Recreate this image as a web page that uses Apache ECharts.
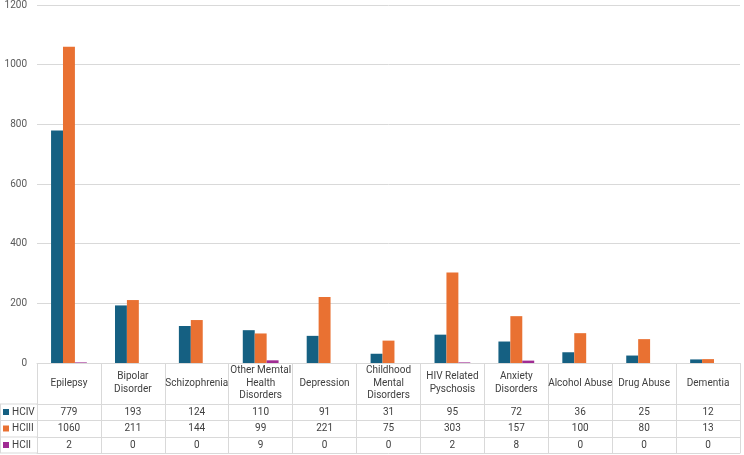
<!DOCTYPE html>
<html>
<head>
<meta charset="utf-8">
<script src="https://cdn.jsdelivr.net/npm/echarts@6/dist/echarts.min.js"></script>
<style>
html,body{margin:0;padding:0;background:#fff;}
#chart{width:744px;height:455px;}
</style>
</head>
<body>
<div id="chart"></div>
<script>
const categories = ['Epilepsy','Bipolar Disorder','Schizophrenia','Other Memtal Health Disorders','Depression','Childhood Mental Disorders','HIV Related Pyschosis','Anxiety Disorders','Alcohol Abuse','Drug Abuse','Dementia'];
const categoryLabels = ['Epilepsy','Bipolar\nDisorder','Schizophrenia','Other Memtal\nHealth\nDisorders','Depression','Childhood\nMental\nDisorders','HIV Related\nPyschosis','Anxiety\nDisorders','Alcohol Abuse','Drug Abuse','Dementia'];
const seriesNames = ['HCIV','HCIII','HCII'];
const HCIV = [779,193,124,110,91,31,95,72,36,25,12];
const HCIII = [1060,211,144,99,221,75,303,157,100,80,13];
const HCII = [2,0,0,9,0,0,2,8,0,0,0];
const yTicks = {min:0, max:1200, interval:200};

const colors = ['#156082','#E97132','#A02B93'];
const lineCol = '#d9d9d9';
const textCol = '#404040';
const font = 'Roboto, "Liberation Sans", sans-serif';

const chart = echarts.init(document.getElementById('chart'), null, {renderer:'canvas'});

function rowAxis(values, offset){
  return {
    type:'category', data:categories, gridIndex:0, position:'bottom', offset:offset,
    axisLine:{show:true, lineStyle:{color:lineCol, width:1}},
    axisTick:{show:false},
    axisLabel:{show: values !== null, interval:0, margin:8, verticalAlign:'middle', fontSize:10, fontFamily:font, color:textCol,
      formatter:(v,i)=> values ? String(values[i]) : ''}
  };
}

const option = {
  animation:false,
  color:colors,
  grid:{left:37, right:4, top:5, bottom:92, containLabel:false},
  legend:{
    orient:'vertical', left:3, top:407, padding:0,
    itemWidth:6, itemHeight:6, itemGap:6.5, icon:'rect',
    textStyle:{fontSize:10, lineHeight:10, fontFamily:font, color:textCol, padding:[0,0,0,-2]},
    data:seriesNames, selectedMode:false
  },
  xAxis:[
    {
      type:'category', data:categories, gridIndex:0, position:'bottom',
      axisLine:{show:true, lineStyle:{color:lineCol, width:1}},
      axisTick:{show:true, length:90, lineStyle:{color:lineCol, width:1}},
      axisLabel:{interval:0, margin:20, verticalAlign:'middle', lineHeight:12.5, fontSize:10, fontFamily:font, color:textCol,
        formatter:(v,i)=>categoryLabels[i]}
    },
    rowAxis(HCIV, 41),
    rowAxis(HCIII, 57.5),
    rowAxis(HCII, 74),
    rowAxis(null, 90)
  ],
  yAxis:{
    type:'value', min:yTicks.min, max:yTicks.max, interval:yTicks.interval,
    axisLine:{show:false}, axisTick:{show:false},
    axisLabel:{fontSize:10, fontFamily:font, color:'#595959', margin:10, formatter:(v)=>String(v)},
    splitLine:{lineStyle:{color:lineCol, width:1}}
  },
  series:[
    {name:seriesNames[0], type:'bar', data:HCIV, barGap:'0%', barCategoryGap:'44%'},
    {name:seriesNames[1], type:'bar', data:HCIII, barGap:'0%', barCategoryGap:'44%'},
    {name:seriesNames[2], type:'bar', data:HCII, barGap:'0%', barCategoryGap:'44%'}
  ],
  graphic:[
    {type:'line', shape:{x1:0, y1:404, x2:37, y2:404}, style:{stroke:lineCol, lineWidth:1}},
    {type:'line', shape:{x1:0, y1:420.5, x2:37, y2:420.5}, style:{stroke:lineCol, lineWidth:1}},
    {type:'line', shape:{x1:0, y1:437, x2:37, y2:437}, style:{stroke:lineCol, lineWidth:1}},
    {type:'line', shape:{x1:0, y1:453, x2:37, y2:453}, style:{stroke:lineCol, lineWidth:1}},
    {type:'line', shape:{x1:0.5, y1:404, x2:0.5, y2:453}, style:{stroke:lineCol, lineWidth:1}}
  ]
};
chart.setOption(option);
</script>
</body>
</html>
